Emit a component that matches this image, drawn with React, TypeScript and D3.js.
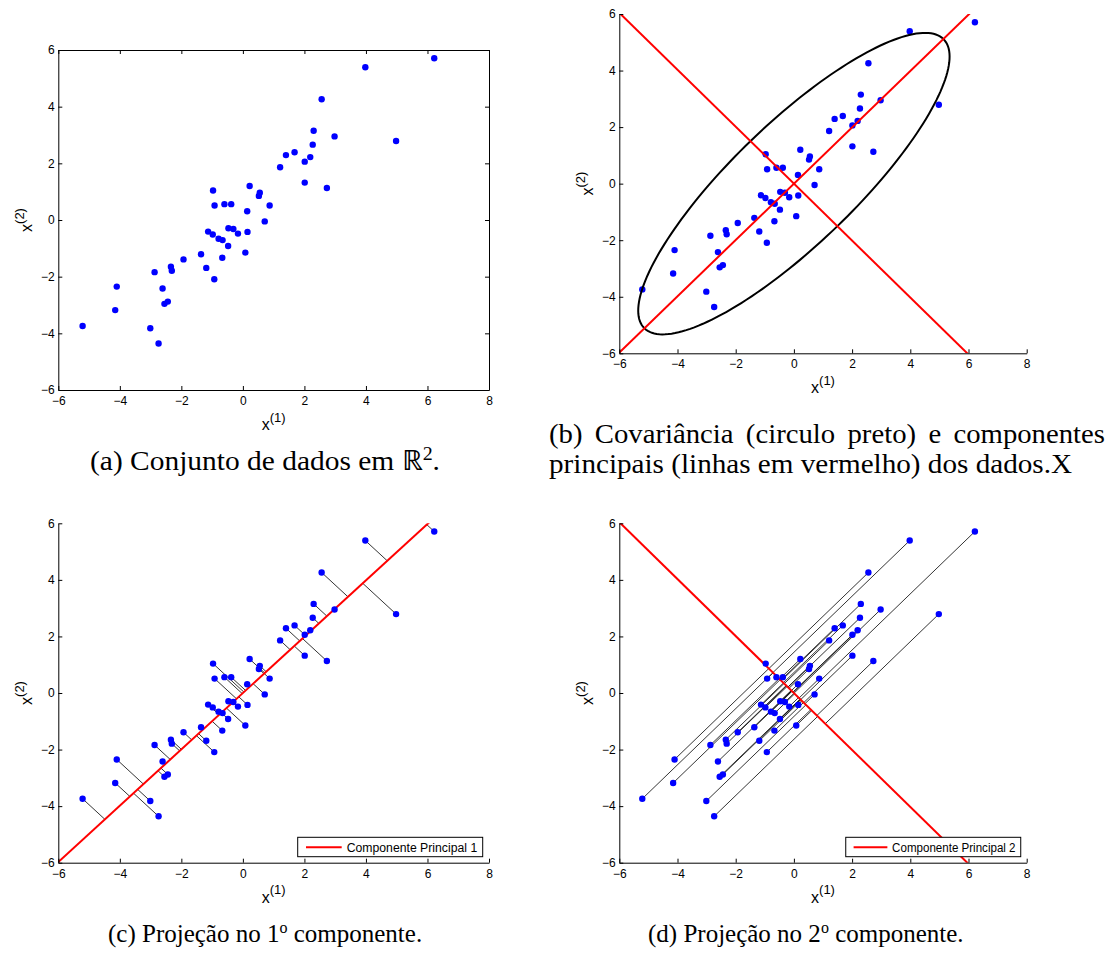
import React, { useEffect, useRef } from 'react';
import * as d3 from 'd3';

// sample coordinates
const x1 = [6.22, 3.98, 2.56, 2.30, 2.98, 4.98, 2.27, 1.68, 1.40, 2.19, 2.01, 1.21, 2.01, 2.73, 0.22, -0.97, 0.55, 0.52, -0.92, -0.60,
  -0.38, 0.87, 0.14, 0.71, -1.13, -0.98, -0.47, -0.31, -0.16, 0.15, -0.79, -0.66, -0.48, 0.08, -1.36, -0.67, -1.93, -2.34, -2.31, -1.19,
  -0.93, -2.87, -2.61, -4.10, -2.55, -2.44, -4.15, -3.01, -5.21, -2.74];
const x2 = [5.71, 5.39, 4.26, 3.15, 2.95, 2.79, 2.66, 2.39, 2.29, 2.22, 2.06, 1.86, 1.32, 1.13, 1.20, 1.04, 0.96, 0.85, 0.51, 0.56,
  0.56, 0.51, 0.31, -0.05, -0.41, -0.51, -0.29, -0.32, -0.48, -0.42, -0.66, -0.71, -0.92, -1.15, -1.21, -1.33, -1.39, -1.65, -1.79, -1.69,
  -2.09, -1.84, -2.42, -2.35, -2.96, -2.88, -3.18, -3.82, -3.74, -4.36];

const xTicks = [-6, -4, -2, 0, 2, 4, 6, 8];
const yTicks = [-6, -4, -2, 0, 2, 4, 6];
const xDomain = [-6, 8];
const yDomain = [-6, 6];

// principal components (mean, directions) and covariance ellipse half-axes
const pcCenter = [0, 0];
const pc1Dir = [1, 0.996];
const pc2Dir = [0.993, -1];
const ellipseAxes = [7.25, 2.12];
const legendLabels = ['Componente Principal 1', 'Componente Principal 2'];

const SANS = 'Liberation Sans, Arial, Helvetica, sans-serif';
const SERIF = 'Liberation Serif, Times New Roman, serif';

const panels = [
  { id: 'a', left: 58.3, right: 489, top: 50, bottom: 390, box: true },
  { id: 'b', left: 619.3, right: 1026.7, top: 14, bottom: 353.3, box: false },
  { id: 'c', left: 58.3, right: 489, top: 523.3, bottom: 862.7, box: false },
  { id: 'd', left: 619.3, right: 1026.7, top: 523.3, bottom: 862.7, box: false },
];

const unit = (v: number[]) => {
  const n = Math.hypot(v[0], v[1]);
  return [v[0] / n, v[1] / n];
};

const project = (px: number, py: number, dir: number[]) => {
  const u = unit(dir);
  const t = (px - pcCenter[0]) * u[0] + (py - pcCenter[1]) * u[1];
  return [pcCenter[0] + t * u[0], pcCenter[1] + t * u[1]];
};

const fmt = (d: any) => (d < 0 ? '\u2212' + Math.abs(d) : String(d));

const App = () => {
  const gRef = useRef<SVGGElement>(null);

  useEffect(() => {
    const root = d3.select(gRef.current);
    root.selectAll('*').remove();
    const pts = x1.map((v, i) => [v, x2[i]]);

    panels.forEach((p) => {
      const x = d3.scaleLinear().domain(xDomain).range([p.left, p.right]);
      const y = d3.scaleLinear().domain(yDomain).range([p.bottom, p.top]);
      const g = root.append('g');
      const clipId = 'clip-' + p.id;
      g.append('clipPath').attr('id', clipId).append('rect')
        .attr('x', p.left).attr('y', p.top)
        .attr('width', p.right - p.left).attr('height', p.bottom - p.top);
      const plot = g.append('g').attr('clip-path', `url(#${clipId})`);

      const pcLine = (dir: number[], color: string) => {
        const u = unit(dir);
        plot.append('line')
          .attr('x1', x(pcCenter[0] - 20 * u[0])).attr('y1', y(pcCenter[1] - 20 * u[1]))
          .attr('x2', x(pcCenter[0] + 20 * u[0])).attr('y2', y(pcCenter[1] + 20 * u[1]))
          .attr('stroke', color).attr('stroke-width', 2);
      };
      const dots = () => {
        plot.append('g').selectAll('circle').data(pts).enter().append('circle')
          .attr('cx', (d) => x(d[0])).attr('cy', (d) => y(d[1]))
          .attr('r', 3.2).attr('fill', '#0000ff');
      };
      const projLines = (dir: number[]) => {
        plot.append('g').selectAll('line').data(pts).enter().append('line')
          .attr('x1', (d) => x(d[0])).attr('y1', (d) => y(d[1]))
          .attr('x2', (d) => x(project(d[0], d[1], dir)[0]))
          .attr('y2', (d) => y(project(d[0], d[1], dir)[1]))
          .attr('stroke', '#000').attr('stroke-width', 0.8);
      };

      if (p.id === 'a') dots();
      if (p.id === 'b') {
        dots();
        const u1 = unit(pc1Dir);
        const u2 = [-u1[1], u1[0]];
        const ell = d3.range(0, 360, 2).map((deg) => {
          const t = (deg * Math.PI) / 180;
          const a = ellipseAxes[0] * Math.cos(t);
          const b = ellipseAxes[1] * Math.sin(t);
          return [pcCenter[0] + a * u1[0] + b * u2[0], pcCenter[1] + a * u1[1] + b * u2[1]];
        });
        plot.append('path')
          .attr('d', d3.line().x((d) => x(d[0])).y((d) => y(d[1])).curve(d3.curveLinearClosed)(ell as any))
          .attr('fill', 'none').attr('stroke', '#000').attr('stroke-width', 2);
        pcLine(pc1Dir, '#ff0000');
        pcLine(pc2Dir, '#ff0000');
      }
      if (p.id === 'c') {
        projLines(pc1Dir);
        pcLine(pc1Dir, '#ff0000');
        dots();
      }
      if (p.id === 'd') {
        projLines(pc2Dir);
        pcLine(pc2Dir, '#ff0000');
        dots();
      }

      // axes, ticks pointing inward
      const styleAxis = (sel: any) => {
        sel.attr('font-family', SANS).attr('font-size', 12);
        sel.select('.domain').attr('stroke', '#000');
        sel.selectAll('.tick line').attr('stroke', '#000');
        sel.selectAll('.tick text').attr('fill', '#000');
      };
      g.append('g').attr('transform', `translate(0,${p.bottom})`)
        .call(d3.axisBottom(x).tickValues(xTicks).tickSize(-4).tickSizeOuter(0).tickPadding(6.5).tickFormat(fmt))
        .call(styleAxis);
      g.append('g').attr('transform', `translate(${p.left},0)`)
        .call(d3.axisLeft(y).tickValues(yTicks).tickSize(-4).tickSizeOuter(0).tickPadding(3.5).tickFormat(fmt))
        .call(styleAxis);
      if (p.box) {
        g.append('g').attr('transform', `translate(0,${p.top})`)
          .call(d3.axisTop(x).tickValues(xTicks).tickSize(-4).tickSizeOuter(0).tickFormat(() => ''))
          .call(styleAxis);
        g.append('g').attr('transform', `translate(${p.right},0)`)
          .call(d3.axisRight(y).tickValues(yTicks).tickSize(-4).tickSizeOuter(0).tickFormat(() => ''))
          .call(styleAxis);
      }

      // axis labels x^(1), x^(2)
      const xl = g.append('text').attr('x', (p.left + p.right) / 2).attr('y', p.bottom + 40)
        .attr('text-anchor', 'middle').attr('font-family', SANS).attr('fill', '#000');
      xl.append('tspan').attr('font-size', 16).text('x');
      xl.append('tspan').attr('font-size', 13).attr('dy', -8.5).text('(1)');
      const yl = g.append('text')
        .attr('transform', `translate(${p.left - 26},${(p.top + p.bottom) / 2}) rotate(-90)`)
        .attr('text-anchor', 'middle').attr('font-family', SANS).attr('fill', '#000');
      yl.append('tspan').attr('font-size', 16).text('x');
      yl.append('tspan').attr('font-size', 13).attr('dy', -8.5).text('(2)');

      // legend
      if (p.id === 'c' || p.id === 'd') {
        const hs = (p.right - p.left) / 430.7;
        const lw = 185 * hs;
        const lx = p.right - 6.3 * hs - lw;
        const ly = p.bottom - 6 - 19.4;
        const lg = g.append('g');
        lg.append('rect').attr('x', lx).attr('y', ly).attr('width', lw).attr('height', 19.4)
          .attr('fill', '#fff').attr('stroke', '#000').attr('stroke-width', 1);
        lg.append('line').attr('x1', lx + 8.3 * hs).attr('x2', lx + 44 * hs)
          .attr('y1', ly + 10).attr('y2', ly + 10).attr('stroke', '#ff0000').attr('stroke-width', 2);
        lg.append('text').attr('x', lx + 49 * hs).attr('y', ly + 14.3)
          .attr('font-family', SANS).attr('font-size', 12).attr('fill', '#000')
          .attr('textLength', 130.5 * hs).attr('lengthAdjust', 'spacingAndGlyphs')
          .text(legendLabels[p.id === 'c' ? 0 : 1]);
      }
    });
  }, []);

  return (
    <svg width={1112} height={960} style={{ position: 'absolute', left: 0, top: 0, background: '#fff' }}>
      <g ref={gRef} />
      <g fontFamily={SERIF} fontSize={28} fill="#000">
        <text x={90} y={470} textLength={350} lengthAdjust="spacingAndGlyphs">
          (a) Conjunto de dados em {'\u211D'}<tspan dy={-10} fontSize={19}>2</tspan><tspan dy={10}>.</tspan>
        </text>
        <text x={549} y={443} textLength={556} lengthAdjust="spacingAndGlyphs" wordSpacing={5}>
          (b) Covariância (circulo preto) e componentes
        </text>
        <text x={549} y={473} textLength={523} lengthAdjust="spacingAndGlyphs">
          principais (linhas em vermelho) dos dados.X
        </text>
        <text x={108} y={942} fontSize={25}>
          (c) Projeção no 1<tspan dy={-9} fontSize={16}>o</tspan><tspan dy={9}> componente.</tspan>
        </text>
        <text x={648} y={942} fontSize={25}>
          (d) Projeção no 2<tspan dy={-9} fontSize={16}>o</tspan><tspan dy={9}> componente.</tspan>
        </text>
      </g>
    </svg>
  );
};

export default App;
